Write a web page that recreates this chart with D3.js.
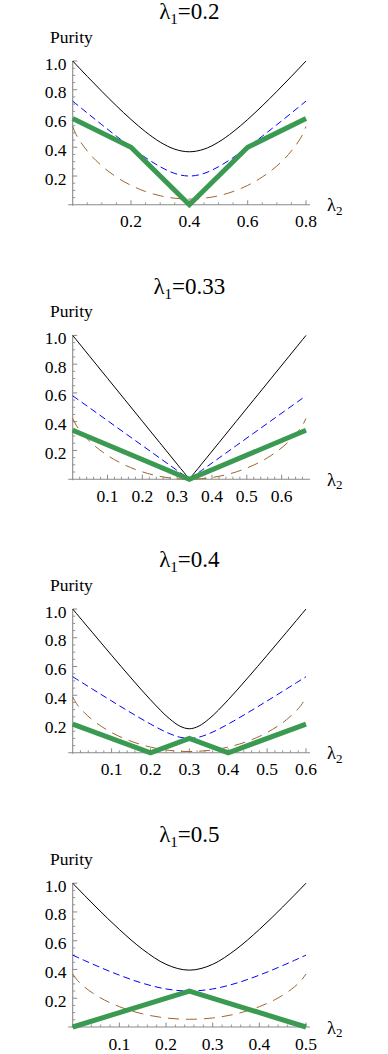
<!DOCTYPE html>
<html>
<head>
<meta charset="utf-8">
<script src="https://cdn.jsdelivr.net/npm/d3@7"></script>
<style>
  html, body { margin: 0; padding: 0; background: #fff; }
</style>
</head>
<body>
<svg id="chart" width="388" height="1054"></svg>
<script>
// ---------- data ----------
const lambda1Labels = ["0.2", "0.33", "0.4", "0.5"];
const lambda2Max = [0.8, 0.67, 0.6, 0.5];

// panel 1 : lambda1 = 0.2
const lambda2_p1 = [0,0.01,0.025,0.05,0.1,0.15,0.2,0.25,0.3,0.35,0.4,0.45,0.5,0.55,0.6,0.65,0.7,0.75,0.775,0.79,0.8];
const black_p1 = [1,0.9784,0.9462,0.8930,0.7887,0.6881,0.5933,0.5074,0.4359,0.3867,0.3688,0.3867,0.4359,0.5074,0.5933,0.6881,0.7887,0.8930,0.9462,0.9784,1];
const blue_p1  = [0.7211,0.7045,0.6796,0.6384,0.5568,0.4770,0.4,0.3279,0.2646,0.2179,0.2,0.2179,0.2646,0.3279,0.4,0.4770,0.5568,0.6384,0.6796,0.7045,0.7211];
const brown_p1 = [0.5445,0.4956,0.4433,0.3743,0.2702,0.1931,0.1350,0.0923,0.0628,0.0455,0.0398,0.0455,0.0628,0.0923,0.1350,0.1931,0.2702,0.3743,0.4433,0.4956,0.5445];
const greenX_p1 = [0, 0.2, 0.4, 0.6, 0.8];
const greenY_p1 = [0.6, 0.4, 0, 0.4, 0.6];

// panel 2 : lambda1 = 0.33
const lambda2_p2 = [0,0.01,0.025,0.05,0.1,0.15,0.2,0.25,0.3,0.32,0.335,0.35,0.37,0.42,0.47,0.52,0.57,0.62,0.645,0.66,0.67];
const black_p2 = [1,0.9702,0.9254,0.8508,0.7015,0.5523,0.4031,0.2539,0.1048,0.0456,0.0089,0.0456,0.1048,0.2539,0.4031,0.5523,0.7015,0.8508,0.9254,0.9702,1];
const blue_p2  = [0.5803,0.5629,0.5370,0.4937,0.4071,0.3205,0.2339,0.1473,0.0608,0.0265,0.005,0.0265,0.0608,0.1473,0.2339,0.3205,0.4071,0.4937,0.5370,0.5629,0.5803];
const brown_p2 = [0.4227,0.3754,0.3256,0.2609,0.1657,0.0984,0.0510,0.0199,0.0034,0.0006,0.0,0.0006,0.0034,0.0199,0.0510,0.0984,0.1657,0.2609,0.3256,0.3754,0.4227];
const greenX_p2 = [0, 0.335, 0.67];
const greenY_p2 = [0.34, 0, 0.34];

// panel 3 : lambda1 = 0.4
const lambda2_p3 = [0,0.01,0.025,0.05,0.1,0.15,0.2,0.25,0.275,0.3,0.325,0.35,0.4,0.45,0.5,0.55,0.575,0.59,0.6];
const black_p3 = [1,0.9676,0.9191,0.8385,0.6782,0.5206,0.3688,0.2345,0.1864,0.1673,0.1864,0.2345,0.3688,0.5206,0.6782,0.8385,0.9191,0.9676,1];
const blue_p3  = [0.5292,0.5122,0.4867,0.4444,0.3606,0.2784,0.2,0.1323,0.1090,0.1,0.1090,0.1323,0.2,0.2784,0.3606,0.4444,0.4867,0.5122,0.5292];
const brown_p3 = [0.3874,0.3411,0.2928,0.2307,0.1413,0.0803,0.0398,0.0165,0.0107,0.0088,0.0107,0.0165,0.0398,0.0803,0.1413,0.2307,0.2928,0.3411,0.3874];
const greenX_p3 = [0, 0.2, 0.3, 0.4, 0.6];
const greenY_p3 = [0.2, 0, 0.1, 0, 0.2];

// panel 4 : lambda1 = 0.5
const lambda2_p4 = [0,0.01,0.025,0.05,0.1,0.15,0.2,0.25,0.3,0.35,0.4,0.45,0.475,0.49,0.5];
const black_p4 = [1,0.9664,0.9164,0.8344,0.6782,0.5397,0.4359,0.3953,0.4359,0.5397,0.6782,0.8344,0.9164,0.9664,1];
const blue_p4  = [0.5,0.4851,0.4630,0.4272,0.3606,0.3041,0.2646,0.25,0.2646,0.3041,0.3606,0.4272,0.4630,0.4851,0.5];
const brown_p4 = [0.3691,0.3245,0.2787,0.2211,0.1413,0.0911,0.0628,0.0536,0.0628,0.0911,0.1413,0.2211,0.2787,0.3245,0.3691];
const greenX_p4 = [0, 0.25, 0.5];
const greenY_p4 = [0, 0.25, 0];

// tick labels
const xTicks_p1 = [0.2, 0.4, 0.6, 0.8];
const xTicks_p2 = [0.1, 0.2, 0.3, 0.4, 0.5, 0.6];
const xTicks_p3 = [0.1, 0.2, 0.3, 0.4, 0.5, 0.6];
const xTicks_p4 = [0.1, 0.2, 0.3, 0.4, 0.5];
const xMinorStep = [0.05, 0.02, 0.02, 0.02];
const yTicks = [0.2, 0.4, 0.6, 0.8, 1.0];
const yMinorStep = 0.05;

// ---------- assemble ----------
const panels = [
  {lab: lambda1Labels[0], xmax: lambda2Max[0], x: lambda2_p1, black: black_p1, blue: blue_p1, brown: brown_p1, gx: greenX_p1, gy: greenY_p1, ticks: xTicks_p1, minor: xMinorStep[0]},
  {lab: lambda1Labels[1], xmax: lambda2Max[1], x: lambda2_p2, black: black_p2, blue: blue_p2, brown: brown_p2, gx: greenX_p2, gy: greenY_p2, ticks: xTicks_p2, minor: xMinorStep[1]},
  {lab: lambda1Labels[2], xmax: lambda2Max[2], x: lambda2_p3, black: black_p3, blue: blue_p3, brown: brown_p3, gx: greenX_p3, gy: greenY_p3, ticks: xTicks_p3, minor: xMinorStep[2]},
  {lab: lambda1Labels[3], xmax: lambda2Max[3], x: lambda2_p4, black: black_p4, blue: blue_p4, brown: brown_p4, gx: greenX_p4, gy: greenY_p4, ticks: xTicks_p4, minor: xMinorStep[3]},
];

const FONT = "'Liberation Serif', 'Times New Roman', serif";
const svg = d3.select("#chart");
const xL = 72.7, xR = 306;
const tops = [61, 335.4, 609, 883.2];
const plotH = 143.8;
const axisColor = "#8a8a8a";

function txt(sel) {
  return sel.append("text").style("font-family", FONT).attr("fill", "#000");
}

panels.forEach((p, i) => {
  const top = tops[i], bottom = top + plotH;
  const x = d3.scaleLinear().domain([0, p.xmax]).range([xL, xR]);
  const y = d3.scaleLinear().domain([0, 1]).range([bottom, top]);
  const g = svg.append("g");

  // title
  const t = txt(g)
    .attr("x", (xL + xR) / 2).attr("y", top - 41.7)
    .attr("text-anchor", "middle")
    .style("font-size", "23px");
  t.append("tspan").text("λ");
  t.append("tspan").attr("dy", 5).style("font-size", "15px").text("1");
  t.append("tspan").attr("dy", -5).text("=" + p.lab);

  // y label
  txt(g).attr("x", 50).attr("y", top - 18.3)
    .style("font-size", "17.5px").text("Purity");

  // x label
  const xl = txt(g).attr("x", 327).attr("y", bottom + 6.5)
    .style("font-size", "18.5px");
  xl.append("tspan").text("λ");
  xl.append("tspan").attr("dy", 3.5).style("font-size", "13px").text("2");

  // x axis
  const xMinor = d3.range(0, p.xmax + 1e-9, p.minor).filter(v => v > 1e-9 && !p.ticks.some(t => Math.abs(t - v) < 1e-6));
  g.append("line").attr("x1", xL - 4.5).attr("x2", xR + 4).attr("y1", bottom).attr("y2", bottom)
    .attr("stroke", axisColor).attr("stroke-width", 1.1);
  g.selectAll(null).data(xMinor).enter().append("line")
    .attr("x1", d => x(d)).attr("x2", d => x(d)).attr("y1", bottom).attr("y2", bottom - 2.5)
    .attr("stroke", axisColor).attr("stroke-width", 0.9);
  g.selectAll(null).data(p.ticks).enter().append("line")
    .attr("x1", d => x(d)).attr("x2", d => x(d)).attr("y1", bottom).attr("y2", bottom - 4.5)
    .attr("stroke", axisColor).attr("stroke-width", 1);
  g.selectAll(null).data(p.ticks).enter().append("text")
    .style("font-family", FONT).attr("fill", "#000")
    .attr("x", d => x(d)).attr("y", bottom + 22.5)
    .attr("text-anchor", "middle").style("font-size", "17.5px")
    .text(d => d3.format(".1f")(d));

  // y axis
  const yMinor = d3.range(yMinorStep, 1.0001, yMinorStep).filter(v => !yTicks.some(t => Math.abs(t - v) < 1e-6));
  g.append("line").attr("x1", xL).attr("x2", xL).attr("y1", bottom + 1).attr("y2", top)
    .attr("stroke", axisColor).attr("stroke-width", 1.1);
  g.selectAll(null).data(yMinor).enter().append("line")
    .attr("x1", xL).attr("x2", xL + 2.5).attr("y1", d => y(d)).attr("y2", d => y(d))
    .attr("stroke", axisColor).attr("stroke-width", 0.9);
  g.selectAll(null).data(yTicks).enter().append("line")
    .attr("x1", xL).attr("x2", xL + 4.5).attr("y1", d => y(d)).attr("y2", d => y(d))
    .attr("stroke", axisColor).attr("stroke-width", 1);
  g.selectAll(null).data(yTicks).enter().append("text")
    .style("font-family", FONT).attr("fill", "#000")
    .attr("x", 66.5).attr("y", d => y(d) + 8.5)
    .attr("text-anchor", "end").style("font-size", "17.5px")
    .text(d => d3.format(".1f")(d));

  // curves
  const smooth = d3.line().x(d => x(d[0])).y(d => y(d[1])).curve(d3.curveMonotoneX);
  const straight = d3.line().x(d => x(d[0])).y(d => y(d[1]));
  const zip = (xs, ys) => xs.map((v, k) => [v, ys[k]]);

  g.append("path").attr("d", smooth(zip(p.x, p.black)))
    .attr("fill", "none").attr("stroke", "#000").attr("stroke-width", 1);
  g.append("path").attr("d", smooth(zip(p.x, p.blue)))
    .attr("fill", "none").attr("stroke", "#0000ff").attr("stroke-width", 1)
    .attr("stroke-dasharray", "7,4");
  g.append("path").attr("d", smooth(zip(p.x, p.brown)))
    .attr("fill", "none").attr("stroke", "#a0652d").attr("stroke-width", 1)
    .attr("stroke-dasharray", "11,7");
  g.append("path").attr("d", straight(zip(p.gx, p.gy)))
    .attr("fill", "none").attr("stroke", "#3b9a52").attr("stroke-width", 5);
});
</script>
</body>
</html>
